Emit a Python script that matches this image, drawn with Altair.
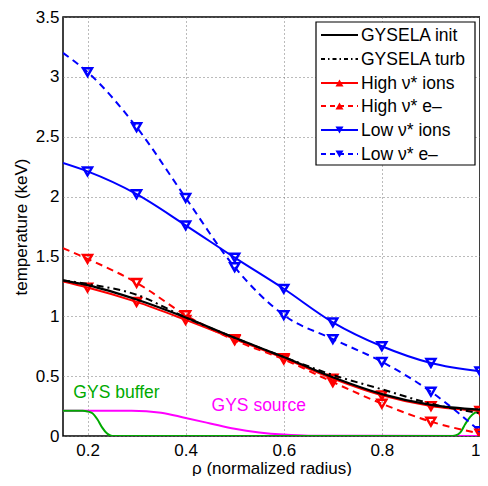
import altair as alt
import pandas as pd

# ---------------- data ----------------
rho_m = [0.15, 0.2, 0.3, 0.4, 0.5, 0.6, 0.7, 0.8, 0.9, 1.0]
low_e = [3.20, 3.04, 2.58, 1.99, 1.41, 1.01, 0.81, 0.62, 0.37, 0.04]
low_i = [2.28, 2.21, 2.02, 1.76, 1.49, 1.23, 0.95, 0.75, 0.61, 0.54]
high_e = [1.57, 1.48, 1.28, 1.01, 0.80, 0.64, 0.45, 0.27, 0.12, 0.02]
high_i = [1.29, 1.24, 1.12, 0.97, 0.81, 0.65, 0.48, 0.34, 0.25, 0.21]
gys_init = [1.30, 1.26, 1.14, 0.99, 0.82, 0.66, 0.49, 0.35, 0.26, 0.22]
gys_turb = [1.30, 1.27, 1.18, 0.99, 0.82, 0.66, 0.51, 0.39, 0.27, 0.19]

buf_x = [0.15, 0.19, 0.20, 0.21, 0.22, 0.23, 0.24, 0.25, 0.94, 0.95, 0.96, 0.97, 0.98, 0.99, 1.0]
buf_y = [0.21, 0.21, 0.205, 0.19, 0.14, 0.07, 0.02, 0.0, 0.0, 0.005, 0.03, 0.10, 0.16, 0.195, 0.21]
src_x = [0.15, 0.29, 0.35, 0.40, 0.45, 0.50, 0.55, 0.60, 0.65, 1.0]
src_y = [0.21, 0.21, 0.195, 0.15, 0.105, 0.06, 0.03, 0.012, 0.003, 0.0]

labels = ["GYSELA init", "GYSELA turb", "High \u03bd* ions", "High \u03bd* e\u2013",
          "Low \u03bd* ions", "Low \u03bd* e\u2013"]

FONT = "Liberation Sans"
W, H = 417, 419
XD = [0.15, 1.0]
YD = [0, 3.5]

xs = alt.Scale(domain=XD, nice=False, zero=False)
ys = alt.Scale(domain=YD, nice=False)

def line_layer(xv, yv, color, dash=None, width=2.0, interp="monotone", axes=False):
    df = pd.DataFrame({"x": xv, "y": yv})
    kw = dict(color=color, strokeWidth=width, interpolate=interp, clip=True)
    if dash:
        kw["strokeDash"] = dash
    if axes:
        xenc = alt.X("x:Q", scale=xs, title="\u03c1 (normalized radius)",
                     axis=alt.Axis(values=[0.2, 0.4, 0.6, 0.8, 1.0], format="~g",
                                   labelFlush=True))
        yenc = alt.Y("y:Q", scale=ys, title="temperature (keV)",
                     axis=alt.Axis(values=[0, 0.5, 1, 1.5, 2, 2.5, 3, 3.5], format="~g"))
    else:
        xenc = alt.X("x:Q", scale=xs)
        yenc = alt.Y("y:Q", scale=ys)
    return alt.Chart(df).mark_line(**kw).encode(x=xenc, y=yenc)

def marker_layer(xv, yv, color):
    df = pd.DataFrame({"x": xv, "y": yv})
    return alt.Chart(df).mark_point(shape="triangle-down", filled=False, color=color,
                                    strokeWidth=2.5, size=80, opacity=1, clip=True).encode(
        x=alt.X("x:Q", scale=xs), y=alt.Y("y:Q", scale=ys))

DASH = [7, 5]
DASHDOT = [7, 4, 2, 4]

layers = []
layers.append(line_layer(src_x, src_y, "#ff00ff", axes=True))
layers.append(line_layer(buf_x, buf_y, "#00aa00"))

layers.append(line_layer(rho_m, low_e, "#0000ff", DASH))
layers.append(marker_layer(rho_m[1:], low_e[1:], "#0000ff"))
layers.append(line_layer(rho_m, low_i, "#0000ff"))
layers.append(marker_layer(rho_m[1:], low_i[1:], "#0000ff"))
layers.append(line_layer(rho_m, high_e, "#ff0000", DASH))
layers.append(marker_layer(rho_m[1:], high_e[1:], "#ff0000"))
layers.append(line_layer(rho_m, high_i, "#ff0000"))
layers.append(marker_layer(rho_m[1:], high_i[1:], "#ff0000"))
layers.append(line_layer(rho_m, gys_turb, "#000000", DASHDOT))
layers.append(line_layer(rho_m, gys_init, "#000000", width=2.2))

# annotations
ann = pd.DataFrame({"x": [0.259, 0.549], "y": [0.36, 0.25],
                    "t": ["GYS buffer", "GYS source"], "c": ["#00aa00", "#ff00ff"]})
layers.append(alt.Chart(ann).mark_text(font=FONT, fontSize=17.5, baseline="middle").encode(
    x=alt.X("x:Q", scale=xs), y=alt.Y("y:Q", scale=ys), text="t:N",
    color=alt.Color("c:N", scale=None)))

# manual legend (pixel positions inside the plot area)
BX1 = W - 5
BX0 = BX1 - 159
BY0, BY1 = 5, 148
layers.append(alt.Chart(pd.DataFrame({"a": [0]})).mark_rect(
    fill="white", stroke="black", strokeWidth=1.2).encode(
    x=alt.value(BX0), x2=alt.value(BX1), y=alt.value(BY0), y2=alt.value(BY1)))
rows = [18, 42, 66, 89, 113, 137]
styles = [("#000000", None, None), ("#000000", DASHDOT, None),
          ("#ff0000", None, "triangle-up"), ("#ff0000", DASH, "triangle-up"),
          ("#0000ff", None, "triangle-down"), ("#0000ff", DASH, "triangle-down")]
one = pd.DataFrame({"a": [0]})
LX0 = BX0 + 5
for ry, lab, (col, dash, shp) in zip(rows, labels, styles):
    kw = dict(color=col, strokeWidth=2)
    if dash:
        kw["strokeDash"] = [5, 4] if dash == DASH else [4, 3, 1.5, 3]
    layers.append(alt.Chart(one).mark_rule(**kw).encode(
        x=alt.value(LX0), x2=alt.value(LX0 + 37), y=alt.value(ry)))
    if shp:
        layers.append(alt.Chart(one).mark_point(shape=shp, filled=True, color=col,
                                                size=65, opacity=1).encode(
            x=alt.value(LX0 + 18.5), y=alt.value(ry)))
    layers.append(alt.Chart(one).mark_text(text=lab, font=FONT, fontSize=17.5,
                                           align="left", baseline="middle",
                                           color="black").encode(
        x=alt.value(LX0 + 40), y=alt.value(ry + 1)))

chart = alt.layer(*layers).properties(
    width=W, height=H,
    padding={"left": 4, "top": 0, "right": 0, "bottom": 0},
).configure_view(stroke="black", strokeWidth=1.5).configure_axis(
    labelFont=FONT, titleFont=FONT, labelFontSize=17, titleFontSize=17,
    labelColor="black", titleColor="black", titleFontWeight="normal",
    domain=False, ticks=False,
    grid=True, gridColor="#777777", gridDash=[1, 3], gridWidth=1,
).configure_axisX(labelPadding=6, titlePadding=2).configure_axisY(labelPadding=4, titlePadding=5)

chart.save("out.html", embed_options={"renderer": "svg", "actions": False})
